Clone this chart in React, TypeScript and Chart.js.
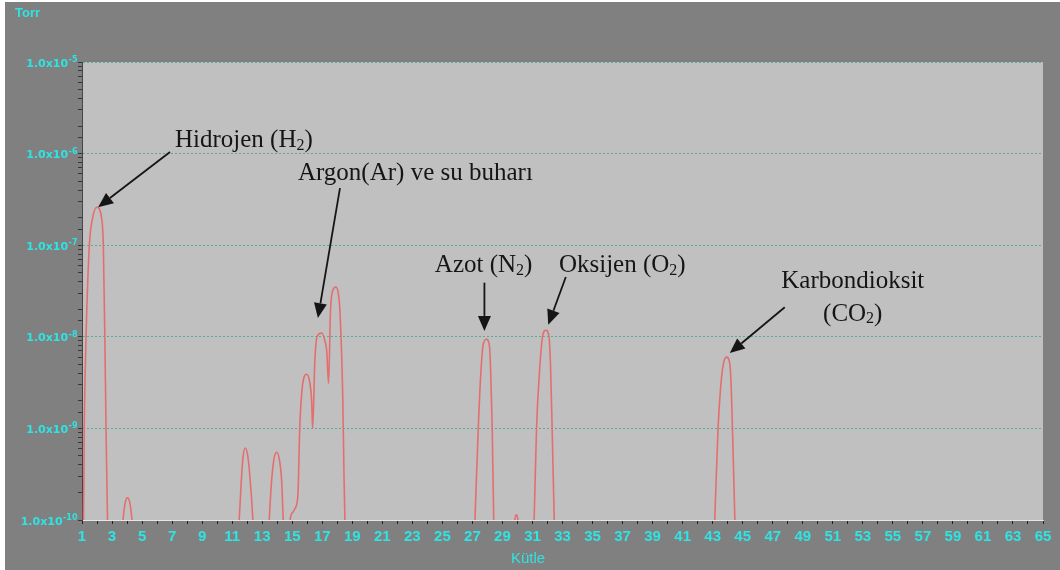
import React, { useEffect, useRef } from "react";
import { Chart, registerables } from "chart.js";

Chart.register(...registerables);

// ---------------- data ----------------
const BASE = 5e-11; // below the visible floor of the axis

const peakH2: [number, number][] = [
  [1.0, BASE], [1.1, 1e-10], [1.15, 1e-9], [1.27, 1e-8], [1.49, 1e-7], [1.71, 2.0e-7],
  [1.98, 2.6e-7], [2.3, 2.0e-7], [2.42, 1e-7], [2.52, 1e-8], [2.6, 1e-9], [2.7, 1e-10], [2.8, BASE],
];
const peakHe: [number, number][] = [
  [3.6, BASE], [3.73, 1e-10], [3.88, 1.55e-10], [4.03, 1.75e-10], [4.18, 1.55e-10], [4.33, 1e-10], [4.45, BASE],
];
const peakC: [number, number][] = [
  [11.38, BASE], [11.47, 1e-10], [11.6, 2.5e-10], [11.72, 4.8e-10], [11.88, 6.1e-10],
  [12.04, 5e-10], [12.18, 3e-10], [12.38, 1e-10], [12.46, BASE],
];
const peakN: [number, number][] = [
  [13.38, BASE], [13.47, 1e-10], [13.62, 2.6e-10], [13.78, 4.6e-10], [13.96, 5.5e-10],
  [14.14, 4.6e-10], [14.3, 2.6e-10], [14.4, 1e-10], [14.48, BASE],
];
const peakArWater: [number, number][] = [
  [14.78, BASE], [14.86, 1e-10], [15.07, 1.23e-10], [15.2, 1.35e-10], [15.38, 1.9e-10], [15.5, 1e-9],
  [15.63, 2.4e-9], [15.78, 3.6e-9], [15.96, 3.9e-9], [16.15, 3.3e-9], [16.29, 2.05e-9], [16.36, 1e-9],
  [16.51, 5.6e-9], [16.67, 1.02e-8], [16.96, 1.1e-8], [17.18, 9e-9], [17.3, 7e-9], [17.42, 3.1e-9],
  [17.55, 1.95e-8], [17.7, 3.2e-8], [17.91, 3.5e-8], [18.08, 2.9e-8], [18.18, 1.9e-8], [18.36, 2.4e-9],
  [18.45, 3e-10], [18.51, 1e-10], [18.6, BASE],
];
const peakN2: [number, number][] = [
  [27.1, BASE], [27.17, 1e-10], [27.39, 1e-9], [27.56, 4e-9], [27.72, 8.3e-9], [27.94, 9.4e-9],
  [28.14, 7.8e-9], [28.22, 4e-9], [28.32, 1e-9], [28.42, 1e-10], [28.5, BASE],
];
const bump30: [number, number][] = [
  [29.76, BASE], [29.83, 1e-10], [29.93, 1.14e-10], [30.03, 1e-10], [30.1, BASE],
];
const peakO2: [number, number][] = [
  [31.04, BASE], [31.11, 1e-10], [31.27, 1e-9], [31.49, 4.7e-9], [31.67, 1.0e-8], [31.89, 1.18e-8],
  [32.1, 1.0e-8], [32.2, 5e-9], [32.31, 1e-9], [32.45, 1e-10], [32.52, BASE],
];
const peakCO2: [number, number][] = [
  [43.07, BASE], [43.14, 1e-10], [43.36, 1e-9], [43.59, 3.6e-9], [43.74, 5.3e-9], [43.92, 6.0e-9],
  [44.14, 5.1e-9], [44.23, 3e-9], [44.32, 1e-9], [44.48, 1e-10], [44.55, BASE],
];
const tail: [number, number][] = [[65, BASE]];

const xTickLabels = [
  1, 3, 5, 7, 9, 11, 13, 15, 17, 19, 21, 23, 25, 27, 29, 31, 33,
  35, 37, 39, 41, 43, 45, 47, 49, 51, 53, 55, 57, 59, 61, 63, 65,
];
const yTickExponents = [-10, -9, -8, -7, -6, -5];
const yMantissa = "1.0x10";

// "_2" marks a subscript digit
const annotationTexts = [
  { text: "Hidrojen (H_2)", mass: 7.19, torr: 1.44e-6, align: "left" },
  { text: "Argon(Ar) ve su buharı", mass: 15.38, torr: 6.3e-7, align: "left" },
  { text: "Azot (N_2)", mass: 24.5, torr: 6.2e-8, align: "left" },
  { text: "Oksijen (O_2)", mass: 32.76, torr: 6.2e-8, align: "left" },
  { text: "Karbondioksit", mass: 52.33, torr: 4.17e-8, align: "center" },
  { text: "(CO_2)", mass: 52.33, torr: 1.82e-8, align: "center" },
];
const annotationArrows = [
  { from: [6.86, 1.04e-6], to: [2.07, 2.6e-7] },
  { from: [18.18, 4.2e-7], to: [16.71, 1.6e-8] },
  { from: [27.8, 3.9e-8], to: [27.8, 1.16e-8] },
  { from: [33.22, 4.5e-8], to: [32.05, 1.35e-8] },
  { from: [47.8, 2.1e-8], to: [44.14, 6.65e-9] },
];

// ---------------- styles ----------------
const CYAN = "#2fe3e3";
const TEAL = "#5aa8a2";
const SANS = '"Liberation Sans", Arial, sans-serif';
const SERIF = '"Liberation Serif", "Times New Roman", serif';
const MAIN_FONT = `25px ${SERIF}`;
const SUB_FONT = `16px ${SERIF}`;

const spectrum = [
  ...peakH2, ...peakHe, ...peakC, ...peakN, ...peakArWater,
  ...peakN2, ...bump30, ...peakO2, ...peakCO2, ...tail,
].map(([x, y]) => ({ x, y }));

const isDecade = (v: number) => {
  if (!(v > 0)) return false;
  const l = Math.log10(v);
  return Math.abs(l - Math.round(l)) < 1e-6 && yTickExponents.includes(Math.round(l));
};

function splitRuns(text: string) {
  const runs: { s: string; sub: boolean }[] = [];
  const parts = text.split("_");
  parts.forEach((p, i) => {
    if (i === 0) {
      if (p) runs.push({ s: p, sub: false });
    } else {
      runs.push({ s: p.charAt(0), sub: true });
      if (p.length > 1) runs.push({ s: p.slice(1), sub: false });
    }
  });
  return runs;
}

function drawRich(ctx: CanvasRenderingContext2D, text: string, x: number, y: number, align: string) {
  const runs = splitRuns(text);
  const widths = runs.map((r) => {
    ctx.font = r.sub ? SUB_FONT : MAIN_FONT;
    return ctx.measureText(r.s).width;
  });
  const total = widths.reduce((a, b) => a + b, 0);
  let cx = align === "center" ? x - total / 2 : x;
  ctx.textAlign = "left";
  ctx.textBaseline = "alphabetic";
  runs.forEach((r, i) => {
    ctx.font = r.sub ? SUB_FONT : MAIN_FONT;
    ctx.fillText(r.s, cx, r.sub ? y + 8 + 2.5 : y + 8);
    cx += widths[i];
  });
}

const framePlugin = {
  id: "frame",
  beforeDraw(chart: any) {
    const { ctx, chartArea: a, width, height } = chart;
    ctx.save();
    ctx.fillStyle = "#ffffff";
    ctx.fillRect(0, 0, width, height);
    ctx.fillStyle = "#808080";
    ctx.fillRect(5, 2, width - 5, height - 2);
    ctx.fillStyle = "#c0c0c0";
    ctx.fillRect(a.left, a.top, a.right - a.left, a.bottom - a.top);
    ctx.restore();
  },
  afterDraw(chart: any) {
    const { ctx, width } = chart;
    const xs = chart.scales.x;
    const ys = chart.scales.y;
    ctx.save();

    // y tick labels with superscript exponents
    ctx.fillStyle = CYAN;
    for (const e of yTickExponents) {
      const py = ys.getPixelForValue(Math.pow(10, e));
      const right = xs.left - 4.5;
      ctx.font = `bold 8px "DejaVu Sans", ${SANS}`;
      ctx.textAlign = "right";
      ctx.textBaseline = "alphabetic";
      const expText = String(e);
      const ew = ctx.measureText(expText).width;
      ctx.fillText(expText, right, py);
      ctx.font = `bold 11px "DejaVu Sans", ${SANS}`;
      ctx.fillText(yMantissa, right - ew - 0.5, py + 4.5);
    }

    // unit + axis title
    ctx.font = `bold 13px ${SANS}`;
    ctx.textAlign = "left";
    ctx.textBaseline = "middle";
    ctx.fillText("Torr", 15, 13);
    ctx.font = `15px ${SANS}`;
    ctx.textAlign = "center";
    ctx.fillText("Kütle", width / 2 - 2, 559);

    // annotations
    ctx.fillStyle = "#151515";
    ctx.strokeStyle = "#151515";
    for (const t of annotationTexts) {
      drawRich(ctx, t.text, xs.getPixelForValue(t.mass), ys.getPixelForValue(t.torr), t.align);
    }
    ctx.lineWidth = 1.8;
    for (const a of annotationArrows) {
      const x1 = xs.getPixelForValue(a.from[0]);
      const y1 = ys.getPixelForValue(a.from[1]);
      const x2 = xs.getPixelForValue(a.to[0]);
      const y2 = ys.getPixelForValue(a.to[1]);
      const ang = Math.atan2(y2 - y1, x2 - x1);
      const L = 15, W = 6.5;
      const c = Math.cos(ang), s = Math.sin(ang);
      const bx = x2 - L * c, by = y2 - L * s;
      ctx.beginPath();
      ctx.moveTo(x1, y1);
      ctx.lineTo(bx, by);
      ctx.stroke();
      ctx.beginPath();
      ctx.moveTo(x2, y2);
      ctx.lineTo(bx + W * s, by - W * c);
      ctx.lineTo(bx - W * s, by + W * c);
      ctx.closePath();
      ctx.fill();
    }
    ctx.restore();
  },
};

export default function App() {
  const ref = useRef<HTMLCanvasElement>(null);
  useEffect(() => {
    document.body.style.margin = "0";
    const chart = new Chart(ref.current as HTMLCanvasElement, {
      type: "line",
      data: {
        datasets: [
          {
            label: "Torr",
            data: spectrum,
            borderColor: "#e46e6e",
            borderWidth: 1.6,
            pointRadius: 0,
            fill: false,
            cubicInterpolationMode: "monotone",
          },
        ],
      },
      options: {
        responsive: false,
        animation: false,
        events: [],
        layout: { padding: { left: 0, right: 17, top: 62, bottom: 0 } },
        plugins: { legend: { display: false }, tooltip: { enabled: false } },
        scales: {
          x: {
            type: "linear",
            min: 1,
            max: 65,
            afterFit: (s: any) => {
              s.height = 50;
            },
            ticks: {
              stepSize: 1,
              autoSkip: false,
              maxRotation: 0,
              color: CYAN,
              padding: 4,
              font: { family: SANS, size: 15, weight: "bold" },
              callback: (v: any) => (xTickLabels.includes(Number(v)) ? String(v) : ""),
            },
            grid: {
              display: true,
              drawOnChartArea: false,
              drawTicks: true,
              tickLength: 4,
              tickColor: "#222222",
              color: "#222222",
            },
            border: { display: true, color: "#e6e6e6", width: 1 },
          },
          y: {
            type: "logarithmic",
            min: 1e-10,
            max: 1e-5,
            afterFit: (s: any) => {
              s.width = 82;
            },
            ticks: { autoSkip: false, callback: () => "", padding: 0 },
            grid: {
              color: (c: any) =>
                c.tick && isDecade(c.tick.value) && c.tick.value > 1.5e-10 ? TEAL : "rgba(0,0,0,0)",
              tickColor: "#383838",
              tickLength: 4,
              lineWidth: 1,
            },
            border: { display: true, color: "#454545", width: 1, dash: [2, 2] },
          },
        },
      },
      plugins: [framePlugin],
    } as any);
    return () => chart.destroy();
  }, []);
  return (
    <div style={{ width: 1060, height: 570 }}>
      <canvas ref={ref} width={1060} height={570} style={{ display: "block" }} />
    </div>
  );
}
